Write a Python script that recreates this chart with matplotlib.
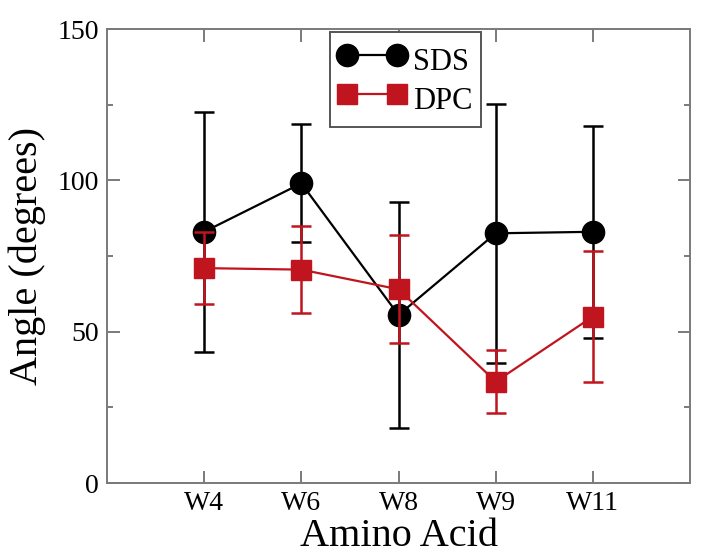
import matplotlib
matplotlib.use("Agg")
import matplotlib.pyplot as plt
from matplotlib.lines import Line2D
from matplotlib.ticker import MultipleLocator

# ==========================
# DATA
# ==========================
residues = ["W4", "W6", "W8", "W9", "W11"]

sds_angle = [83, 99, 55.5, 82.5, 83]
sds_err = [39.6, 19.5, 37.4, 42.7, 35]

dpc_angle = [71, 70.5, 64, 33.5, 55]
dpc_err = [12, 14.3, 17.8, 10.5, 21.7]

RED = "#c0141e"
GREY = "#7a7a7a"

plt.rcParams["font.family"] = ["Liberation Serif", "DejaVu Serif"]

# ==========================
# PLOT
# ==========================
fig = plt.figure(figsize=(7.02, 5.58), dpi=100)
ax = fig.add_axes([0.1524, 0.1344, 0.8306, 0.8136])

x = list(range(1, len(residues) + 1))

ax.errorbar(x, sds_angle, yerr=sds_err, color="black", marker="o",
            markersize=16, linewidth=1.6, elinewidth=1.8, capsize=7,
            capthick=1.8, zorder=3)
ax.errorbar(x, dpc_angle, yerr=dpc_err, color=RED, marker="s",
            markersize=14, linewidth=1.6, elinewidth=1.8, capsize=7,
            capthick=1.8, zorder=4)

# ==========================
# AXES
# ==========================
ax.set_xlim(0, 6)
ax.set_ylim(0, 150)
ax.set_xticks(x)
ax.set_xticklabels(residues)
ax.yaxis.set_major_locator(MultipleLocator(50))
ax.yaxis.set_minor_locator(MultipleLocator(25))

ax.tick_params(which="both", direction="in", top=True, right=True,
               colors=GREY, labelcolor="black", labelsize=20, width=1.4)
ax.tick_params(which="major", length=9)
ax.tick_params(which="minor", length=4.5)
ax.tick_params(axis="x", which="minor", top=False, bottom=False)
ax.tick_params(axis="both", pad=6)

for sp in ax.spines.values():
    sp.set_color(GREY)
    sp.set_linewidth(1.4)

ax.set_xlabel("Amino Acid", fontsize=29, labelpad=1)
ax.set_ylabel("Angle (degrees)", fontsize=29, labelpad=8)

# ==========================
# LEGEND
# ==========================
handles = [
    Line2D([], [], color="black", marker="o", markersize=16, linewidth=1.6),
    Line2D([], [], color=RED, marker="s", markersize=14, linewidth=1.6),
]
leg = ax.legend(handles, ["SDS", "DPC"], loc="upper left",
                bbox_to_anchor=(0.382, 0.993), borderaxespad=0,
                numpoints=2, handlelength=2.25, handleheight=1.6,
                handletextpad=0.23, fontsize=22, fancybox=False,
                framealpha=1, borderpad=0.26, labelspacing=0.0)
leg.get_frame().set_edgecolor("#555555")
leg.get_frame().set_linewidth(1.4)

fig.savefig("out.png", dpi=100)
